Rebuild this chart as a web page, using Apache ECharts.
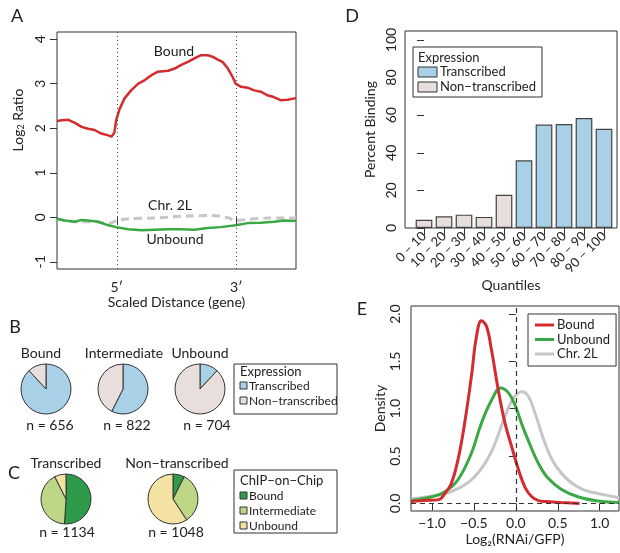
<!DOCTYPE html>
<html>
<head>
<meta charset="utf-8">
<script src="https://cdn.jsdelivr.net/npm/echarts@6/dist/echarts.min.js"></script>
<style>
  html, body { margin: 0; padding: 0; background: #fff; }
  #chart { width: 620px; height: 553px; }
</style>
</head>
<body>
<div id="chart"></div>
<script>
// Panel A: log2 ratio along scaled gene (0-1 upstream, 1-3 gene body, 3-4 downstream)
const boundProfile = [[0,2.16],[0.08,2.18],[0.19,2.19],[0.3,2.12],[0.41,2.03],[0.52,1.99],[0.63,1.96],[0.74,1.88],[0.86,1.84],[0.91,1.81],[0.96,1.9],[0.99,2.18],[1.05,2.44],[1.13,2.67],[1.24,2.85],[1.36,3.0],[1.47,3.08],[1.58,3.19],[1.69,3.27],[1.86,3.29],[1.97,3.34],[2.08,3.42],[2.19,3.49],[2.3,3.57],[2.41,3.64],[2.52,3.64],[2.61,3.6],[2.69,3.54],[2.77,3.49],[2.86,3.34],[2.94,3.15],[2.99,3.0],[3.08,2.93],[3.19,2.91],[3.3,2.85],[3.41,2.82],[3.52,2.74],[3.63,2.7],[3.74,2.63],[3.86,2.64],[3.97,2.67],[4.0,2.68]];
const unboundProfile = [[0,-0.03],[0.13,-0.07],[0.3,-0.1],[0.41,-0.06],[0.52,-0.07],[0.69,-0.1],[0.86,-0.18],[0.99,-0.22],[1.19,-0.27],[1.41,-0.29],[1.63,-0.28],[1.86,-0.27],[2.08,-0.27],[2.3,-0.28],[2.52,-0.24],[2.74,-0.22],[2.99,-0.18],[3.19,-0.13],[3.41,-0.12],[3.63,-0.1],[3.8,-0.07],[3.97,-0.08],[4.0,-0.07]];
const chr2LProfile = [[0,-0.03],[0.3,-0.1],[0.63,-0.1],[0.86,-0.14],[0.99,-0.08],[1.19,-0.03],[1.63,-0.015],[2.19,0.03],[2.58,0.04],[2.86,-0.01],[2.99,-0.07],[3.19,-0.05],[3.52,-0.015],[4.0,-0.015]];
const geneTickPos = [1, 3];
const geneTickLabels = ['5\u2032', '3\u2032'];
const ratioTicks = [-1, 0, 1, 2, 3, 4];

// Panel B / C: gene counts by binding class and expression
const bindingClasses = ['Bound', 'Intermediate', 'Unbound'];
const transcribedCounts = [578, 472, 84];
const nonTranscribedCounts = [78, 350, 620];

// Panel D: percent binding per expression quantile
const quantileLabels = ['0 \u2212 10', '10 \u2212 20', '20 \u2212 30', '30 \u2212 40', '40 \u2212 50', '50 \u2212 60', '60 \u2212 70', '70 \u2212 80', '80 \u2212 90', '90 \u2212 100'];
const percentBinding = [4.4, 6.2, 7.1, 5.9, 17.7, 36.0, 55.0, 55.3, 58.5, 52.8];
const quantileTranscribed = [false, false, false, false, false, true, true, true, true, true];
const percentTicks = [0, 20, 40, 60, 80, 100];

// Panel E: density of log2(RNAi/GFP)
const densityBound = [[-1.25,0.02],[-1.1,0.03],[-0.92,0.04],[-0.85,0.1],[-0.77,0.21],[-0.69,0.46],[-0.61,0.85],[-0.53,1.34],[-0.47,1.76],[-0.41,1.93],[-0.35,1.87],[-0.29,1.62],[-0.21,1.2],[-0.13,0.85],[-0.05,0.6],[0.03,0.36],[0.11,0.17],[0.19,0.07],[0.27,0.03],[0.35,0.02],[0.54,0.01],[0.76,0.0]];
const densityUnbound = [[-1.25,0.03],[-1.0,0.07],[-0.85,0.12],[-0.69,0.25],[-0.53,0.53],[-0.41,0.85],[-0.29,1.09],[-0.18,1.22],[-0.09,1.17],[-0.01,1.04],[0.07,0.84],[0.15,0.66],[0.27,0.42],[0.38,0.27],[0.54,0.15],[0.74,0.07],[0.98,0.025],[1.23,0.01]];
const densityChr2L = [[-1.25,0.05],[-0.92,0.09],[-0.73,0.14],[-0.53,0.25],[-0.37,0.42],[-0.25,0.63],[-0.13,0.92],[-0.03,1.11],[0.07,1.18],[0.15,1.13],[0.23,0.95],[0.35,0.63],[0.46,0.42],[0.62,0.25],[0.82,0.14],[1.06,0.09],[1.23,0.06]];
const logTicks = [-1, -0.5, 0, 0.5, 1];
const logTickLabels = ['\u22121.0', '\u22120.5', '0.0', '0.5', '1.0'];
const densityTicks = [0, 0.5, 1, 1.5, 2];

const FONT = 'Lato, sans-serif';
const INK = '#222';
const BLUE = '#a8d0e6', BEIGE = '#e8dfdc';
const DKGREEN = '#2e9b4b', LTGREEN = '#bdd786', YELLOW = '#f3e2a2';
const RED = '#d42b2f', GREEN = '#3aa845', GREY = '#c6c6c6';

function txt(x, y, s, size, align) {
    return {type: 'text', x: x, y: y, z: 100, silent: true,
        style: {text: s, fontSize: size, fontFamily: FONT, fill: INK,
            align: align || 'center', verticalAlign: 'middle'}};
}
function box(x, y, w, h, fill) {
    return {type: 'rect', z: 100, silent: true, shape: {x: x, y: y, width: w, height: h},
        style: {fill: fill || '#fff', stroke: '#333', lineWidth: 1}};
}
function tickAxis(extra) {
    let a = {
        type: 'value',
        axisLine: {show: false},
        splitLine: {show: false},
        axisTick: {show: true, length: 7, lineStyle: {color: '#333'}},
        axisLabel: {fontSize: 14, color: INK, fontFamily: FONT},
        nameLocation: 'middle',
        nameTextStyle: {fontSize: 14, color: INK, fontFamily: FONT}
    };
    for (let k in extra) {
        if (typeof extra[k] === 'object' && a[k] && !Array.isArray(extra[k])) {
            a[k] = Object.assign({}, a[k], extra[k]);
        } else {
            a[k] = extra[k];
        }
    }
    return a;
}

function pie(center, names, values, colors) {
    return {
        type: 'pie', center: center, radius: 25, startAngle: 90, clockwise: true,
        silent: true, label: {show: false}, labelLine: {show: false},
        itemStyle: {borderColor: '#333', borderWidth: 1},
        data: names.map((n, i) => ({name: n, value: values[i], itemStyle: {color: colors[i]}}))
    };
}

let option = {
    animation: false,
    textStyle: {fontFamily: FONT, color: INK},
    grid: [
        {left: 57, top: 32, width: 239, height: 237, show: true, borderColor: '#333', borderWidth: 1, backgroundColor: 'transparent'},
        {left: 405, top: 31, width: 212, height: 197, show: true, borderColor: '#333', borderWidth: 1, backgroundColor: 'transparent'},
        {left: 411, top: 306, width: 208, height: 205, show: true, borderColor: '#333', borderWidth: 1, backgroundColor: 'transparent'}
    ],
    xAxis: [
        tickAxis({gridIndex: 0, min: 0, max: 4,
            axisTick: {customValues: geneTickPos},
            axisLabel: {customValues: geneTickPos, margin: 11,
                formatter: v => geneTickLabels[geneTickPos.indexOf(v)]},
            name: 'Scaled Distance (gene)', nameGap: 26}),
        tickAxis({gridIndex: 1, min: -0.95, max: 9.65,
            axisTick: {customValues: quantileLabels.map((q, i) => i)},
            axisLabel: {customValues: quantileLabels.map((q, i) => i), rotate: 45, margin: 6, fontSize: 13,
                formatter: v => quantileLabels[v]},
            name: 'Quantiles', nameGap: 50}),
        tickAxis({gridIndex: 2, min: -1.25, max: 1.23,
            axisTick: {customValues: logTicks},
            axisLabel: {customValues: logTicks, margin: 5,
                formatter: v => logTickLabels[logTicks.indexOf(v)]},
            name: 'Log\u2082(RNAi/GFP)', nameGap: 21})
    ],
    yAxis: [
        tickAxis({gridIndex: 0, min: -1.16, max: 4.16,
            axisTick: {customValues: ratioTicks},
            axisLabel: {customValues: ratioTicks, rotate: 90, margin: 10}}),
        tickAxis({gridIndex: 1, min: 0, max: 104.8,
            axisTick: {customValues: percentTicks},
            axisLabel: {customValues: percentTicks, rotate: 90, margin: 7},
            name: 'Percent Binding', nameGap: 28}),
        tickAxis({gridIndex: 2, min: -0.08, max: 2.085,
            axisTick: {customValues: densityTicks},
            axisLabel: {customValues: densityTicks, rotate: 90, margin: 9,
                formatter: v => v.toFixed(1)},
            name: 'Density', nameGap: 24})
    ],
    legend: {
        data: ['Bound', 'Unbound', 'Chr. 2L'],
        left: 528, top: 314, orient: 'vertical', selectedMode: false,
        backgroundColor: '#fff', borderColor: '#333', borderWidth: 1,
        padding: [4, 6, 5, 7], itemGap: 0.5, itemWidth: 19, itemHeight: 3, icon: 'rect',
        textStyle: {fontSize: 13, lineHeight: 14, color: INK, fontFamily: FONT, padding: [0, 0, 0, -2]}
    },
    series: [
        // A
        {name: 'A Chr. 2L', type: 'line', xAxisIndex: 0, yAxisIndex: 0, data: chr2LProfile, symbol: 'none', smooth: 0.3,
            lineStyle: {color: GREY, width: 3, type: [8, 5]}, silent: true},
        {name: 'A Unbound', type: 'line', xAxisIndex: 0, yAxisIndex: 0, data: unboundProfile, symbol: 'none',
            lineStyle: {color: GREEN, width: 2.5}, silent: true},
        {name: 'A Bound', type: 'line', xAxisIndex: 0, yAxisIndex: 0, data: boundProfile, symbol: 'none',
            lineStyle: {color: RED, width: 2.5}, silent: true,
            markLine: {silent: true, symbol: ['none', 'none'], label: {show: false},
                lineStyle: {color: '#444', type: [1, 3], width: 1},
                data: geneTickPos.map(p => ({xAxis: p}))}},
        // D
        {name: 'D', type: 'bar', xAxisIndex: 1, yAxisIndex: 1, barWidth: 16.7, silent: true,
            data: percentBinding.map((v, i) => ({value: [i, v],
                itemStyle: {color: quantileTranscribed[i] ? BLUE : BEIGE, borderColor: '#444', borderWidth: 1.2}}))},
        // E
        {name: 'Chr. 2L', type: 'line', xAxisIndex: 2, yAxisIndex: 2, data: densityChr2L, symbol: 'none', smooth: 0.4,
            color: GREY, lineStyle: {color: GREY, width: 3}, silent: true,
            markLine: {silent: true, symbol: ['none', 'none'], label: {show: false},
                lineStyle: {color: '#333', type: [5, 4], width: 1.2},
                data: [{yAxis: 0}, {xAxis: 0}]}},
        {name: 'Unbound', type: 'line', xAxisIndex: 2, yAxisIndex: 2, data: densityUnbound, symbol: 'none', smooth: 0.4,
            color: GREEN, lineStyle: {color: GREEN, width: 3}, silent: true},
        {name: 'Bound', type: 'line', xAxisIndex: 2, yAxisIndex: 2, data: densityBound, symbol: 'none', smooth: 0.4,
            color: RED, lineStyle: {color: RED, width: 3}, silent: true}
    ]
};

// B: expression split for each binding class
const bCenters = [[46, 389], [123, 389], [200, 389]];
const bTitleX = [41, 124, 200];
const bCountX = [50, 127, 207];
bindingClasses.forEach((c, i) => {
    option.series.push(pie(bCenters[i], ['Transcribed', 'Non-transcribed'],
        [transcribedCounts[i], nonTranscribedCounts[i]], [BLUE, BEIGE]));
});
// C: binding split for each expression class
const cCenters = [[66, 499], [173, 499]];
option.series.push(pie(cCenters[0], bindingClasses, transcribedCounts, [DKGREEN, LTGREEN, YELLOW]));
option.series.push(pie(cCenters[1], bindingClasses, nonTranscribedCounts, [DKGREEN, LTGREEN, YELLOW]));

const sum = a => a.reduce((s, v) => s + v, 0);
let g = [
    txt(17, 16, 'A', 18), txt(352, 16, 'D', 18), txt(15, 327, 'B', 18),
    txt(14, 473, 'C', 18), txt(362, 309, 'E', 18),
    txt(174, 51, 'Bound', 14), txt(170, 205, 'Chr. 2L', 14), txt(175, 239, 'Unbound', 14),
    txt(66, 463, 'Transcribed', 14), txt(177, 463, 'Non\u2212transcribed', 14),
    txt(67, 532, 'n = ' + sum(transcribedCounts), 14), txt(176, 532, 'n = ' + sum(nonTranscribedCounts), 14)
];
// y-axis title of panel A, with subscript
g.push({type: 'text', x: 18, y: 120, rotation: Math.PI / 2, z: 100, silent: true,
    style: {text: '{n|Log}{s|2}{n| Ratio}', align: 'center', verticalAlign: 'middle', fill: INK,
        rich: {n: {fontSize: 14, fontFamily: FONT, fill: INK},
               s: {fontSize: 9, fontFamily: FONT, fill: INK, padding: [6, 0, 0, 0]}}}});
bindingClasses.forEach((c, i) => {
    g.push(txt(bTitleX[i], 353, c, 14));
    g.push(txt(bCountX[i], 425, 'n = ' + (transcribedCounts[i] + nonTranscribedCounts[i]), 14));
});
// legend D
g.push(box(413, 47, 129, 50));
g.push(txt(418, 58, 'Expression', 13, 'left'));
g.push(box(418, 67, 19, 10, BLUE)); g.push(txt(440, 72, 'Transcribed', 13, 'left'));
g.push(box(418, 82, 19, 10, BEIGE)); g.push(txt(440, 87, 'Non\u2212transcribed', 13, 'left'));
// legend B
g.push(box(234, 364, 103, 50));
g.push(txt(240, 372, 'Expression', 13, 'left'));
g.push(box(240, 382, 7, 7, BLUE)); g.push(txt(249, 386, 'Transcribed', 12, 'left'));
g.push(box(240, 397, 7, 7, BEIGE)); g.push(txt(249, 401, 'Non\u2212transcribed', 12, 'left'));
// legend C
g.push(box(234, 470, 103, 63));
g.push(txt(240, 481, 'ChIP\u2212on\u2212Chip', 13, 'left'));
[[DKGREEN, 'Bound', 496], [LTGREEN, 'Intermediate', 511], [YELLOW, 'Unbound', 526]].forEach(r => {
    g.push(box(240, r[2] - 4, 7, 7, r[0]));
    g.push(txt(249, r[2], r[1], 12, 'left'));
});
option.graphic = {elements: g};

let myChart = echarts.init(document.getElementById('chart'));
myChart.setOption(option);
</script>
</body>
</html>
